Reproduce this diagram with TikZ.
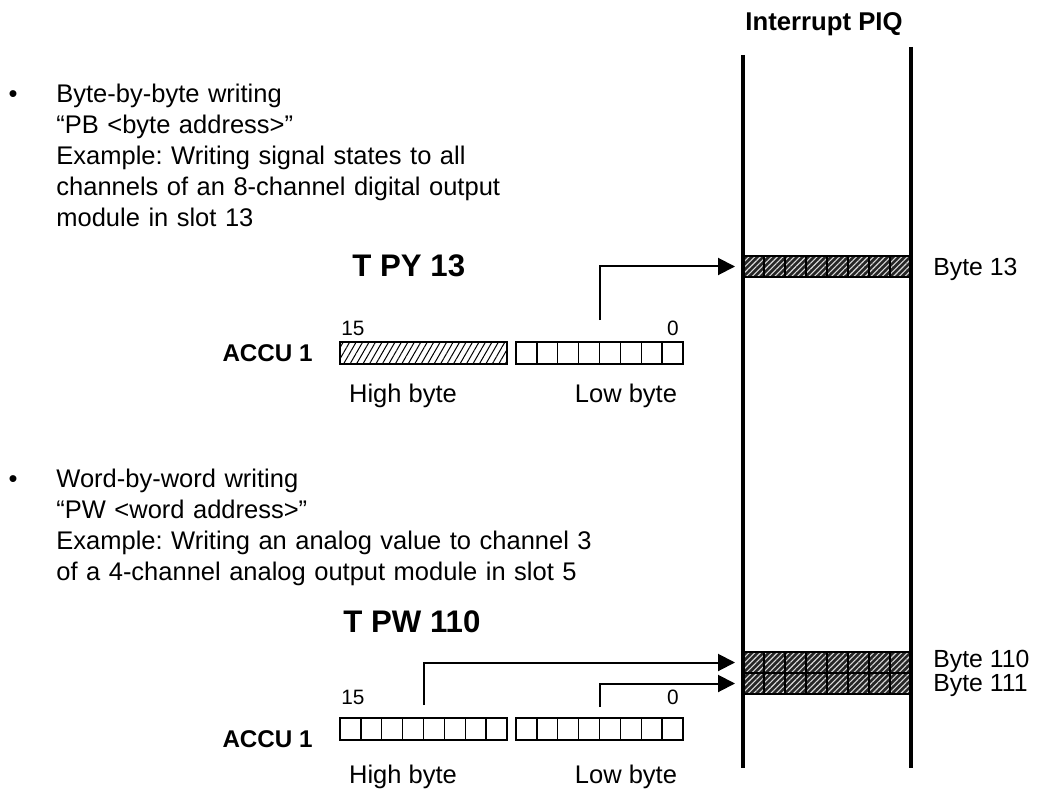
\documentclass[tikz,border=0pt]{standalone}
\usepackage{fontspec}
\setmainfont{Liberation Sans}
\frenchspacing
\usetikzlibrary{arrows.meta,positioning,calc,patterns.meta}
\tikzset{
    every picture/.style={
        x=0.5pt,
        y=-0.5pt,
        >={Triangle[length=8.5pt,width=8.5pt]}
    },
    % text styles
    plain/.style={inner sep=0pt,font=\fontsize{12.75}{15.5}\selectfont},
    bytename/.style={inner sep=0pt,font=\fontsize{12.4}{15}\selectfont},
    cmd/.style={inner sep=0pt,font=\fontsize{15.6}{18}\selectfont\bfseries},
    accu/.style={inner sep=0pt,font=\fontsize{12.1}{14}\selectfont\bfseries},
    bitno/.style={inner sep=0pt,font=\fontsize{10.4}{12}\selectfont},
    % register and PIQ styles
    regbyte/.style={draw,line width=0.75pt,minimum width=83.5pt,minimum height=11pt,inner sep=0pt,outer sep=0pt},
    piqbyte/.style={draw,line width=0.7pt,minimum width=84pt,minimum height=10.5pt,inner sep=0pt,outer sep=0pt,
        preaction={fill=black!85},pattern={Lines[angle=45,distance=2pt,line width=0.55pt]},pattern color=white!85!black},
    divider/.style={line width=0.7pt},
    piqwall/.style={line width=2pt},
    wire/.style={->,line width=1pt,shorten >=4pt}
}

\begin{document}
\begin{tikzpicture}
    \useasboundingbox (0,0) rectangle (1038,791);
    % Interrupt PIQ
    \node[inner sep=0pt,font=\fontsize{12.85}{15}\selectfont\bfseries,anchor=base] (piqtitle) at (824,31) {Interrupt PIQ};
    \node[piqbyte] (b13) at (827,266.5) {};
    \node[piqbyte] (b110) at (827,662.5) {};
    \node[piqbyte] (b111) at (827,683.5) {};
    \node[bytename,anchor=base west] (lab13) at (933,276) {Byte 13};
    \node[bytename,anchor=base west] (lab110) at (933,667) {Byte 110};
    \node[bytename,anchor=base west] (lab111) at (933,691) {Byte 111};
    % Byte-by-byte
    \node[plain,anchor=base] (dotA) at (13,103) {•};
    \node[plain,anchor=base west,text width=300pt,align=left] (descA) at (56,103) {Byte-by-byte writing\\“PB <byte address>”\\Example: Writing signal states to all\\channels of an 8-channel digital output\\module in slot 13};
    \node[cmd,anchor=base west] (cmdA) at (352,277) {T PY 13};
    \node[accu,anchor=east] (accuA) at (313,353) {ACCU 1};
    \node[regbyte,pattern={Lines[angle=60,distance=2.8pt,line width=0.5pt]}] (hiA) at (423.5,353) {};
    \node[regbyte] (loA) at (599.5,353) {};
    \node[bitno,anchor=base west] (msbA) at (341,335) {15};
    \node[bitno,anchor=base east] (lsbA) at (679,335) {0};
    \node[plain,anchor=base] (hinameA) at (403,402) {High byte};
    \node[plain,anchor=base] (lonameA) at (626,402) {Low byte};
    % Word-by-word
    \node[plain,anchor=base] (dotB) at (13,487) {•};
    \node[plain,anchor=base west,text width=300pt,align=left] (descB) at (56,487) {Word-by-word writing\\“PW <word address>”\\Example: Writing an analog value to channel 3\\of a 4-channel analog output module in slot 5};
    \node[cmd,anchor=base west] (cmdB) at (343,632) {T PW 110};
    \node[accu,anchor=east] (accuB) at (313,739) {ACCU 1};
    \node[regbyte] (hiB) at (423.5,729) {};
    \node[regbyte] (loB) at (599.5,729) {};
    \node[bitno,anchor=base west] (msbB) at (341,704) {15};
    \node[bitno,anchor=base east] (lsbB) at (679,704) {0};
    \node[plain,anchor=base] (hinameB) at (403,783) {High byte};
    \node[plain,anchor=base] (lonameB) at (626,783) {Low byte};
    % bit cells
    \foreach \n in {loA,hiB,loB,b13,b110,b111}
        \foreach \k in {1,...,7}
            \draw[divider] ($(\n.north west)!\k/8!(\n.north east)$) -- ($(\n.south west)!\k/8!(\n.south east)$);
    % PIQ walls
    \draw[piqwall] (743,55) -- (743,768);
    \draw[piqwall] (911,47) -- (911,768);
    % transfers
    \coordinate (tapA) at (599.5,320);
    \coordinate (tapB1) at (423.5,705);
    \coordinate (tapB2) at (599.5,707);
    \draw[wire] (tapA) |- (b13.west);
    \draw[wire] (tapB1) |- (b110.west);
    \draw[wire] (tapB2) |- (b111.west);
\end{tikzpicture}
\end{document}
